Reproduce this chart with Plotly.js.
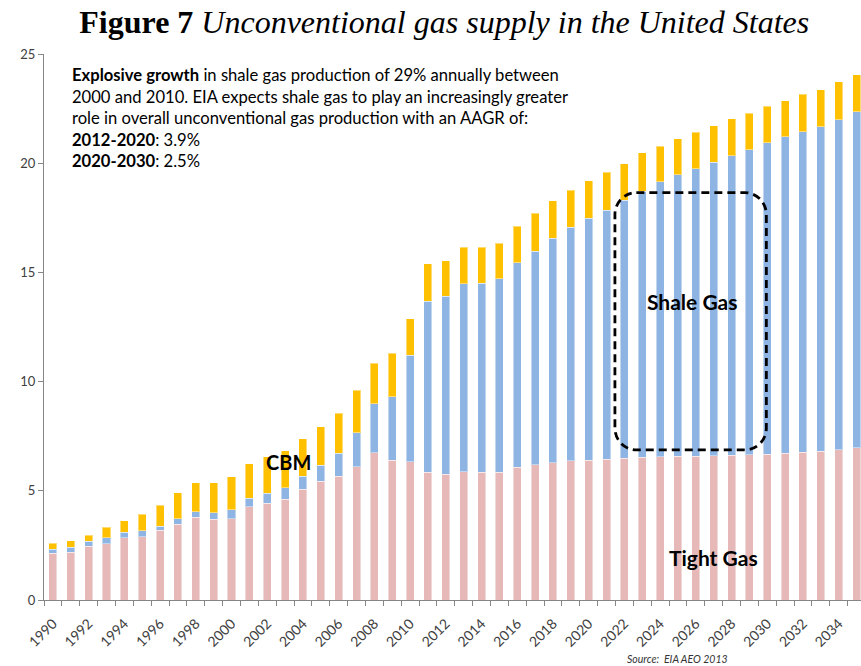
<!DOCTYPE html>
<html>
<head>
<meta charset="utf-8">
<script src="https://cdn.plot.ly/plotly-3.0.1.min.js"></script>
<style>
  html, body { margin: 0; padding: 0; background: #ffffff; }
  #chart { width: 861px; height: 666px; }
</style>
</head>
<body>
<div id="chart"></div>
<script>
const years = [1990, 1991, 1992, 1993, 1994, 1995, 1996, 1997, 1998, 1999,
  2000, 2001, 2002, 2003, 2004, 2005, 2006, 2007, 2008, 2009,
  2010, 2011, 2012, 2013, 2014, 2015, 2016, 2017, 2018, 2019,
  2020, 2021, 2022, 2023, 2024, 2025, 2026, 2027, 2028, 2029,
  2030, 2031, 2032, 2033, 2034, 2035];

const tightGas = [2.15, 2.18, 2.45, 2.58, 2.84, 2.90, 3.19, 3.46, 3.78, 3.69,
  3.73, 4.27, 4.44, 4.61, 5.06, 5.44, 5.67, 6.11, 6.74, 6.39,
  6.34, 5.84, 5.75, 5.88, 5.84, 5.84, 6.07, 6.19, 6.28, 6.37,
  6.40, 6.45, 6.50, 6.54, 6.57, 6.58, 6.59, 6.61, 6.62, 6.66,
  6.67, 6.72, 6.76, 6.81, 6.88, 6.96];

const shaleGas = [0.17, 0.23, 0.23, 0.26, 0.27, 0.26, 0.18, 0.27, 0.27, 0.30,
  0.40, 0.38, 0.45, 0.54, 0.61, 0.72, 1.04, 1.54, 2.25, 2.91,
  4.86, 7.85, 8.15, 8.60, 8.67, 8.86, 9.37, 9.79, 10.28, 10.70,
  11.07, 11.40, 11.80, 12.18, 12.58, 12.89, 13.16, 13.43, 13.72, 13.96,
  14.27, 14.49, 14.69, 14.87, 15.12, 15.40];

const cbm = [0.27, 0.30, 0.28, 0.50, 0.53, 0.76, 0.97, 1.19, 1.32, 1.38,
  1.51, 1.60, 1.68, 1.68, 1.72, 1.77, 1.84, 1.95, 1.85, 2.00,
  1.68, 1.71, 1.64, 1.67, 1.64, 1.63, 1.68, 1.72, 1.72, 1.70,
  1.73, 1.74, 1.68, 1.76, 1.63, 1.66, 1.67, 1.68, 1.70, 1.67,
  1.67, 1.66, 1.71, 1.69, 1.72, 1.70];

const labelYears = years.filter((y) => y % 2 === 0 && y < 2035);

const textFont = "Lato, 'Open Sans', sans-serif";
const axisGrey = "#868686";

function barTrace(name, values, color) {
  return {
    x: years,
    y: values,
    type: "bar",
    name: name,
    marker: { color: color, line: { color: "rgba(255,255,255,0.45)", width: 1 } },
    hoverinfo: "x+y+name",
  };
}

// rounded dashed box around the projected shale bars, in data units
function roundedBox(x0, x1, y0, y1, rx, ry) {
  const k = 0.45; // cubic handles, close to a quarter circle
  return "M " + (x0 + rx) + "," + y1 +
    " L " + (x1 - rx) + "," + y1 +
    " C " + (x1 - rx * k) + "," + y1 + " " + x1 + "," + (y1 - ry * k) + " " + x1 + "," + (y1 - ry) +
    " L " + x1 + "," + (y0 + ry) +
    " C " + x1 + "," + (y0 + ry * k) + " " + (x1 - rx * k) + "," + y0 + " " + (x1 - rx) + "," + y0 +
    " L " + (x0 + rx) + "," + y0 +
    " C " + (x0 + rx * k) + "," + y0 + " " + x0 + "," + (y0 + ry * k) + " " + x0 + "," + (y0 + ry) +
    " L " + x0 + "," + (y1 - ry) +
    " C " + x0 + "," + (y1 - ry * k) + " " + (x0 + rx * k) + "," + y1 + " " + (x0 + rx) + "," + y1 + " Z";
}

const traces = [
  barTrace("Tight Gas", tightGas, "#E6B9B8"),
  barTrace("Shale Gas", shaleGas, "#8DB4E2"),
  barTrace("CBM", cbm, "#FFC000"),
];

const layout = {
  width: 861,
  height: 666,
  margin: { l: 44, r: 0, t: 54, b: 66 },
  paper_bgcolor: "#ffffff",
  plot_bgcolor: "#ffffff",
  barmode: "stack",
  bargap: 0.55,
  showlegend: false,
  title: {
    text: "<b>Figure 7</b> <i>Unconventional gas supply in the United States</i>",
    font: { family: "'Liberation Serif', 'Times New Roman', serif", size: 32, color: "#000000" },
    x: 0.516,
    xref: "container",
    xanchor: "center",
    y: 0.968,
    yref: "container",
    yanchor: "middle",
  },
  xaxis: {
    type: "linear",
    range: [1989.5, 2035.25],
    tickmode: "array",
    tickvals: labelYears,
    ticktext: labelYears.map(String),
    tickangle: -45,
    ticks: "",
    ticklabelstandoff: 9,
    showline: true,
    linecolor: axisGrey,
    linewidth: 1,
    showgrid: false,
    zeroline: false,
    tickfont: { family: textFont, size: 14, color: "#404040" },
    minor: { tickmode: "linear", tick0: 1989.5, dtick: 1, ticks: "outside", ticklen: 5, tickcolor: axisGrey, showgrid: false },
    fixedrange: true,
  },
  yaxis: {
    range: [0, 25],
    dtick: 5,
    ticks: "outside",
    ticklen: 5,
    tickcolor: axisGrey,
    showline: true,
    linecolor: axisGrey,
    linewidth: 1,
    showgrid: false,
    zeroline: false,
    tickfont: { family: textFont, size: 13, color: "#404040" },
    fixedrange: true,
  },
  shapes: [
    {
      type: "path",
      xref: "x",
      yref: "y",
      path: roundedBox(2021.47, 2029.95, 6.87, 18.65, 1.2, 1.0),
      line: { color: "#000000", width: 2.8, dash: "8px,5px" },
      fillcolor: "rgba(0,0,0,0)",
    },
  ],
  annotations: [
    {
      x: 1990.96, y: 24.6, xref: "x", yref: "y",
      xanchor: "left", yanchor: "top", align: "left", showarrow: false,
      text: "<b>Explosive growth</b> in shale gas production of 29% annually between<br>" +
        "2000 and 2010. EIA expects shale gas to play an increasingly greater<br>" +
        "role in overall unconventional gas production with an AAGR of:<br>" +
        "<b>2012-2020</b>: 3.9%<br>" +
        "<b>2020-2030</b>: 2.5%",
      font: { family: textFont, size: 16.6, color: "#000000" },
    },
    {
      x: 2003.2, y: 6.3, xref: "x", yref: "y", showarrow: false,
      text: "<b>CBM</b>",
      font: { family: textFont, size: 20, color: "#000000" },
    },
    {
      x: 2025.8, y: 13.65, xref: "x", yref: "y", showarrow: false,
      text: "<b>Shale Gas</b>",
      font: { family: textFont, size: 21, color: "#000000" },
    },
    {
      x: 2027.0, y: 1.95, xref: "x", yref: "y", showarrow: false,
      text: "<b>Tight Gas</b>",
      font: { family: textFont, size: 21, color: "#000000" },
    },
    {
      x: 668 / 861, y: -0.108, xref: "paper", yref: "paper",
      xanchor: "center", yanchor: "middle", showarrow: false,
      text: "<i>Source:  EIA AEO 2013</i>",
      font: { family: textFont, size: 10.5, color: "#333333" },
    },
  ],
};

Plotly.newPlot("chart", traces, layout, { displayModeBar: false, staticPlot: true });
</script>
</body>
</html>
